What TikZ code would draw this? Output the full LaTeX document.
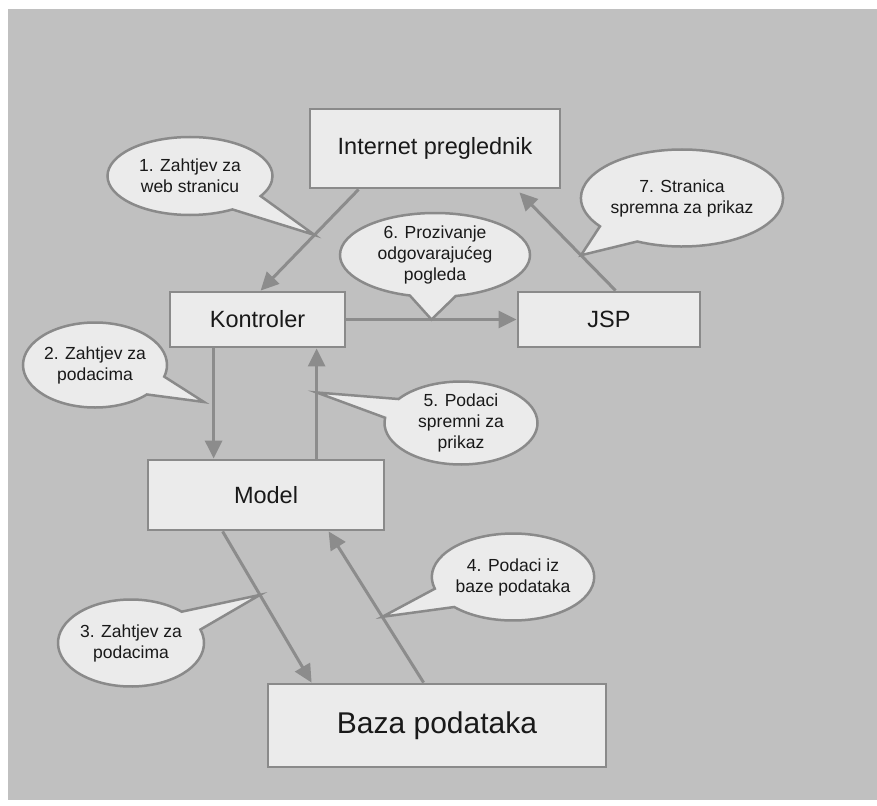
\documentclass[tikz,border=0pt]{standalone}
\usepackage{fontspec}
\setmainfont{Liberation Sans}
\usetikzlibrary{shapes.callouts,arrows.meta,calc}
\definecolor{bggray}{RGB}{192,192,192}
\definecolor{boxfill}{RGB}{235,235,235}
\definecolor{edgegray}{RGB}{138,138,138}
\definecolor{arrgray}{RGB}{140,140,140}
\definecolor{txt}{RGB}{25,25,25}
\tikzset{
  box/.style={draw=edgegray, line width=2.8pt, fill=boxfill, text=txt, inner sep=0pt,
    font=\fontsize{23.5}{28}\selectfont},
  arr/.style={draw=arrgray, line width=3pt, -{Triangle[length=18pt,width=17pt]}},
  bubble/.style={ellipse callout, draw=edgegray, line width=2.5pt, fill=boxfill, text=txt,
    inner sep=0pt, align=center, callout pointer arc=28,
    font=\fontsize{17.5}{21}\selectfont}
}
\begin{document}
\begin{tikzpicture}[x=1pt,y=-1pt]
\useasboundingbox (0,0) rectangle (877,805);
\fill[white] (0,0) rectangle (877,805);
\fill[bggray] (8,9) rectangle (877,800);

% boxes
\node[box, minimum width=250pt, minimum height=79pt] (ib) at (435,148.5) {Internet preglednik};
\node[box, minimum width=175pt, minimum height=55pt] (kont) at (257.5,319.5) {Kontroler};
\node[box, minimum width=182pt, minimum height=55pt] (jsp) at (609,319.5) {JSP};
\node[box, minimum width=236pt, minimum height=70pt] (model) at (266,495) {Model};
\node[box, minimum width=338pt, minimum height=83pt, font=\fontsize{30}{36}\selectfont] (baza) at (437,725.5) {Baza podataka};

% connectors
\draw[arr] ([xshift=50pt]ib.south west) -- ([xshift=92pt]kont.north west);
\draw[arr] ([xshift=45pt]kont.south west) -- ([xshift=67pt]model.north west);
\draw[arr] ([xshift=76pt]model.south west) -- ([xshift=45pt]baza.north west);
\draw[arr] ([xshift=157pt]baza.north west) -- ([xshift=182pt]model.south west);
\draw[arr] ([xshift=170pt]model.north west) -- ([xshift=148pt]kont.south west);
\draw[arr] (kont.east) -- (jsp.west);
\draw[arr] ([xshift=99pt]jsp.north west) -- ([xshift=-42pt,yshift=-3pt]ib.south east);

% pointer targets on connectors
\coordinate (t1) at ($([xshift=50pt]ib.south west)!0.45!([xshift=92pt]kont.north west)$);
\coordinate (t2) at (204,402);
\coordinate (t3) at ($([xshift=76pt]model.south west)!0.42!([xshift=45pt]baza.north west)$);
\coordinate (t4) at ($([xshift=157pt]baza.north west)!0.435!([xshift=182pt]model.south west)$);
\coordinate (t5) at ($([xshift=170pt]model.north west)!0.6!([xshift=148pt]kont.south west)$);
\coordinate (t6) at ($(kont.east)!0.5!(jsp.west)$);
\coordinate (t7) at ($([xshift=99pt]jsp.north west)!0.36!([xshift=-42pt,yshift=-3pt]ib.south east)$);

% callouts
\node[bubble, minimum width=165pt, minimum height=78pt, callout absolute pointer={(t1)}] (c1) at (190,176) {1. Zahtjev za\\web stranicu};
\node[bubble, minimum width=144pt, minimum height=85pt, callout absolute pointer={(t2)}] (c2) at (95,365) {2. Zahtjev za\\podacima};
\node[bubble, minimum width=146pt, minimum height=87pt, callout absolute pointer={(t3)}] (c3) at (131,643) {3. Zahtjev za\\podacima};
\node[bubble, minimum width=154pt, minimum height=87pt, callout absolute pointer={(t4)}] (c4) at (513,577) {4. Podaci iz\\baze podataka};
\node[bubble, minimum width=153pt, minimum height=83pt, callout absolute pointer={(t5)}] (c5) at (461,423) {5. Podaci\\spremni za\\prikaz};
\node[bubble, minimum width=190pt, minimum height=84pt, callout absolute pointer={(t6)}] (c6) at (435,255) {6. Prozivanje\\odgovarajućeg\\pogleda};
\node[bubble, minimum width=180pt, minimum height=97pt, callout absolute pointer={(t7)}] (c7) at (682,198) {7. Stranica\\spremna za prikaz};
\end{tikzpicture}
\end{document}
